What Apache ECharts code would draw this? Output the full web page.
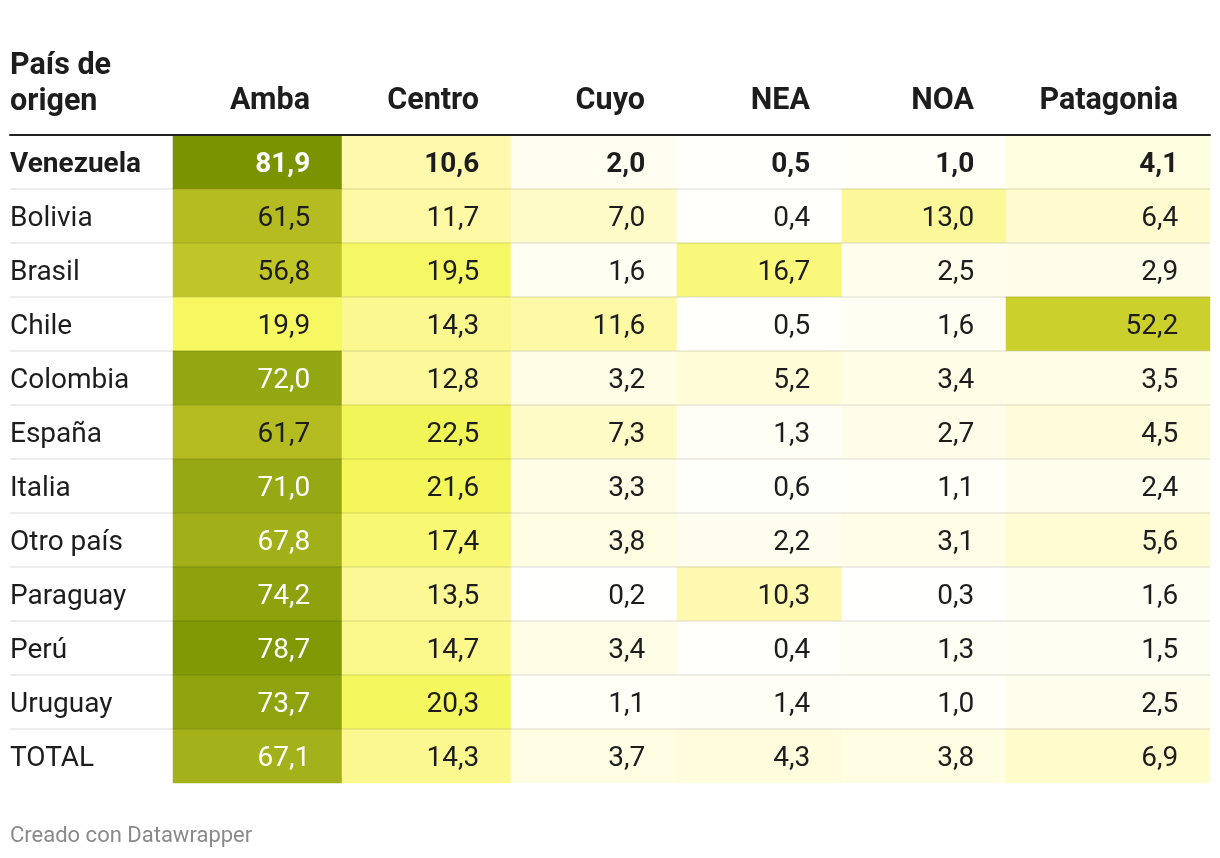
<!DOCTYPE html>
<html>
<head>
<meta charset="utf-8">
<script src="https://cdn.jsdelivr.net/npm/echarts@6/dist/echarts.min.js"></script>
<style>
html,body{margin:0;padding:0;background:#fff;}
#chart{width:1220px;height:858px;}
</style>
</head>
<body>
<div id="chart"></div>
<script>
// ---- data ----
const countries = ['Venezuela','Bolivia','Brasil','Chile','Colombia','España','Italia','Otro país','Paraguay','Perú','Uruguay','TOTAL'];
const regions = ['Amba','Centro','Cuyo','NEA','NOA','Patagonia'];
const amba      = [81.9, 61.5, 56.8, 19.9, 72.0, 61.7, 71.0, 67.8, 74.2, 78.7, 73.7, 67.1];
const centro    = [10.6, 11.7, 19.5, 14.3, 12.8, 22.5, 21.6, 17.4, 13.5, 14.7, 20.3, 14.3];
const cuyo      = [2.0, 7.0, 1.6, 11.6, 3.2, 7.3, 3.3, 3.8, 0.2, 3.4, 1.1, 3.7];
const nea       = [0.5, 0.4, 16.7, 0.5, 5.2, 1.3, 0.6, 2.2, 10.3, 0.4, 1.4, 4.3];
const noa       = [1.0, 13.0, 2.5, 1.6, 3.4, 2.7, 1.1, 3.1, 0.3, 1.3, 1.0, 3.8];
const patagonia = [4.1, 6.4, 2.9, 52.2, 3.5, 4.5, 2.4, 5.6, 1.6, 1.5, 2.5, 6.9];
const columns = [amba, centro, cuyo, nea, noa, patagonia];
const highlightRow = 'Venezuela';
const headerTitle = 'País de\norigen';
const footer = 'Creado con Datawrapper';

// ---- layout / style ----
const FONT = 'Roboto';
const colEdges = [173, 342, 511, 677, 842, 1006, 1210];
const W = 1220;
const TOP = 135, BOTTOM = 75;
const textDark = '#1d1d1d';
const BODY = 28, HEAD = 30.5;
const scaleColors = ['#ffffff','#fff9b0','#f5f75c','#e8ec4a','#dadf3a','#ced22d','#b5bc22','#94a713','#7a9300'];

const fmt = v => v.toFixed(1).replace('.', ',');

const grids = [{left: 10, right: 10, top: TOP, bottom: BOTTOM}];
const xAxes = [{
  gridIndex: 0, type: 'value', position: 'top', min: 0, max: 1, z: 10,
  axisLine: {show: true, onZero: false, lineStyle: {color: '#222', width: 2}},
  axisTick: {show: false}, axisLabel: {show: false}, splitLine: {show: false}
}];
const yAxes = [{
  gridIndex: 0, type: 'category', data: countries, inverse: true, z: 10,
  axisLine: {show: false}, axisTick: {show: false},
  axisLabel: {
    show: true, interval: 0, align: 'left', margin: 0, inside: false,
    padding: [5, 0, 0, 0],
    fontFamily: FONT, fontSize: BODY, color: textDark,
    formatter: v => v === highlightRow ? '{b|' + v + '}' : v,
    rich: {b: {fontFamily: FONT, fontSize: BODY, fontWeight: 'bold', color: textDark}}
  },
  splitLine: {show: true, interval: 0, showMinLine: false, showMaxLine: false,
    lineStyle: {color: 'rgba(0,0,0,0.07)', width: 2}}
}];
const series = [];

regions.forEach((name, i) => {
  const gi = i + 1;
  grids.push({left: colEdges[i], right: W - colEdges[i + 1], top: TOP, bottom: BOTTOM});
  xAxes.push({
    gridIndex: gi, type: 'category', data: [name], position: 'top', offset: 34,
    axisLine: {show: false}, axisTick: {show: false}, axisLabel: {show: false}, splitLine: {show: false},
    name: name, nameLocation: 'end', nameGap: -32,
    nameTextStyle: {align: 'right', verticalAlign: 'middle', fontFamily: FONT, fontSize: HEAD, fontWeight: 'bold', color: textDark}
  });
  yAxes.push({
    gridIndex: gi, type: 'category', data: countries, inverse: true, show: false
  });
  series.push({
    type: 'heatmap', xAxisIndex: gi, yAxisIndex: gi,
    data: columns[i].map((v, r) => ({
      value: [0, r, v],
      label: {
        color: v > 65 ? '#ffffff' : textDark,
        fontWeight: countries[r] === highlightRow ? 'bold' : 'normal'
      }
    })),
    label: {
      show: true, position: 'insideRight', distance: 32, offset: [0, 2.5],
      fontFamily: FONT, fontSize: BODY,
      formatter: p => fmt(p.value[2])
    },
    itemStyle: {borderWidth: 0},
    emphasis: {disabled: true}
  });
});

const chart = echarts.init(document.getElementById('chart'), null, {renderer: 'canvas'});
chart.setOption({
  animation: false,
  backgroundColor: '#ffffff',
  title: [
    {text: headerTitle, left: 10, top: 48, padding: 0,
     textStyle: {fontFamily: FONT, fontSize: HEAD, fontWeight: 'bold', color: textDark, lineHeight: 36}},
    {text: footer, left: 10, top: 825, padding: 0,
     textStyle: {fontFamily: FONT, fontSize: 22, fontWeight: 'normal', color: '#8a8a8a'}}
  ],
  grid: grids,
  xAxis: xAxes,
  yAxis: yAxes,
  visualMap: {
    show: false, type: 'continuous', min: 0, max: 82, dimension: 2,
    seriesIndex: series.map((s, i) => i),
    inRange: {color: scaleColors}
  },
  series: series
});
</script>
</body>
</html>
